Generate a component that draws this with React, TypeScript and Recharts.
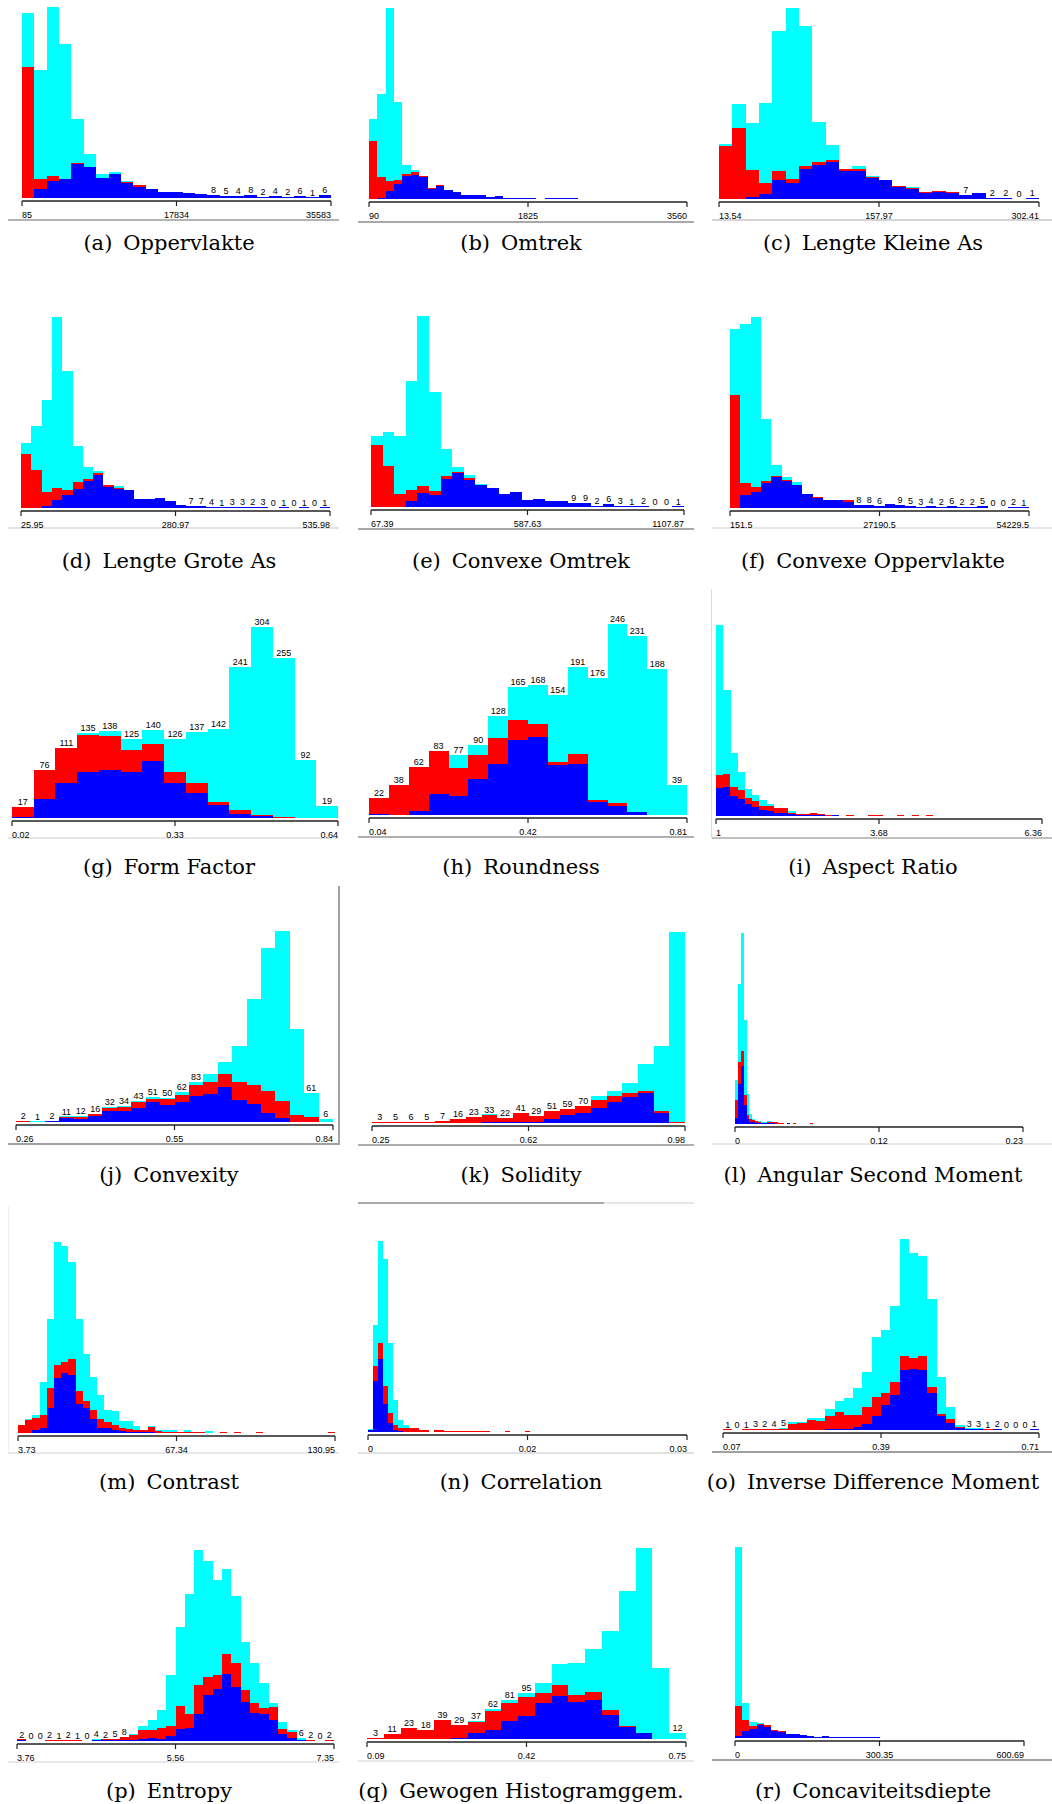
import React from 'react';
import { BarChart, Bar, XAxis, YAxis, LabelList } from 'recharts';

// ---------- data (bar heights; cyan = all objects, red / blue = subsets) ----------
// (a) Oppervlakte
const oppCyan = [556, 385, 573, 461, 237, 133, 72, 77, 48, 38, 27, 18, 18, 15, 12, 8, 6, 6, 9, 3, 6, 3, 7, 1, 9];
const oppRed = [393, 58, 65, 56, 105, 93, 59, 72, 47, 38, 27, 18, 18, 15, 12, 8, 6, 6, 9, 3, 6, 3, 7, 1, 9];
const oppBlue = [0, 26, 52, 56, 102, 93, 59, 72, 46, 34, 27, 18, 18, 15, 12, 8, 6, 6, 9, 3, 6, 3, 7, 1, 9];
const oppLabelStart = 15;
const oppLabels = ['8', '5', '4', '8', '2', '4', '2', '6', '1', '6'];
const oppTicks = ['85', '17834', '35583'];

// (b) Omtrek
const omtCyan = [238, 313, 571, 290, 103, 88, 70, 33, 43, 28, 20, 11, 11, 13, 5, 10, 4, 2, 2, 2, 0, 2, 2, 2, 2, 0, 0, 0, 0, 0, 0, 0, 0, 0, 0, 0, 0, 0];
const omtRed = [173, 65, 53, 58, 76, 80, 70, 33, 43, 28, 20, 11, 11, 13, 5, 10, 4, 2, 2, 2, 0, 2, 2, 2, 2, 0, 0, 0, 0, 0, 0, 0, 0, 0, 0, 0, 0, 0];
const omtBlue = [0, 2, 23, 45, 68, 72, 65, 30, 38, 28, 20, 11, 11, 13, 5, 10, 4, 2, 2, 2, 0, 2, 2, 2, 2, 0, 0, 0, 0, 0, 0, 0, 0, 0, 0, 0, 0, 0];
const omtLabelStart = 0;
const omtLabels: string[] = [];
const omtTicks = ['90', '1825', '3560'];

// (c) Lengte Kleine As
const lkaCyan = [164, 285, 227, 289, 504, 573, 520, 231, 162, 89, 100, 69, 56, 38, 33, 22, 25, 22, 12, 19, 3, 3, 0, 2];
const lkaRed = [160, 212, 87, 49, 84, 60, 100, 111, 118, 89, 90, 66, 56, 38, 32, 22, 25, 22, 12, 19, 3, 3, 0, 2];
const lkaBlue = [0, 0, 5, 16, 56, 49, 89, 103, 112, 84, 84, 63, 56, 35, 29, 19, 22, 18, 12, 19, 3, 3, 0, 2];
const lkaLabelStart = 18;
const lkaLabels = ['7', '', '2', '2', '0', '1'];
const lkaTicks = ['13.54', '157.97', '302.41'];

// (d) Lengte Grote As
const lgaCyan = [195, 245, 323, 571, 410, 185, 123, 111, 68, 67, 53, 27, 27, 30, 20, 10, 7, 7, 4, 1, 3, 3, 2, 3, 0, 1, 0, 1, 0, 1];
const lgaRed = [161, 115, 49, 61, 53, 78, 87, 106, 68, 61, 53, 27, 27, 30, 20, 10, 7, 7, 4, 1, 3, 3, 2, 3, 0, 1, 0, 1, 0, 1];
const lgaBlue = [0, 0, 5, 25, 39, 58, 81, 98, 63, 57, 53, 27, 27, 30, 20, 10, 7, 7, 4, 1, 3, 3, 2, 3, 0, 1, 0, 1, 0, 1];
const lgaLabelStart = 16;
const lgaLabels = ['7', '7', '4', '1', '3', '3', '2', '3', '0', '1', '0', '1', '0', '1'];
const lgaTicks = ['25.95', '280.97', '535.98'];

// (e) Convexe Omtrek
const cvoCyan = [215, 228, 215, 380, 577, 347, 175, 122, 97, 70, 58, 40, 46, 22, 24, 17, 17, 11, 12, 3, 8, 4, 1, 3, 0, 0, 1];
const cvoRed = [188, 124, 40, 50, 62, 47, 93, 106, 88, 65, 58, 40, 46, 22, 24, 17, 17, 11, 12, 3, 8, 4, 1, 3, 0, 0, 1];
const cvoBlue = [0, 0, 0, 18, 43, 35, 84, 102, 83, 65, 58, 40, 46, 22, 24, 17, 17, 11, 12, 3, 8, 4, 1, 3, 0, 0, 1];
const cvoLabelStart = 17;
const cvoLabels = ['9', '9', '2', '6', '3', '1', '2', '0', '0', '1'];
const cvoTicks = ['67.39', '587.63', '1107.87'];

// (f) Convexe Oppervlakte
const cvaCyan = [532, 546, 568, 264, 127, 91, 76, 41, 34, 25, 25, 23, 10, 10, 7, 12, 9, 6, 4, 6, 3, 7, 3, 3, 6, 0, 0, 3, 1];
const cvaRed = [335, 75, 62, 79, 94, 82, 68, 41, 34, 25, 25, 23, 10, 10, 7, 12, 9, 6, 4, 6, 3, 7, 3, 3, 6, 0, 0, 3, 1];
const cvaBlue = [0, 40, 49, 74, 92, 79, 68, 41, 31, 25, 25, 19, 10, 10, 7, 12, 9, 6, 4, 6, 3, 7, 3, 3, 6, 0, 0, 3, 1];
const cvaLabelStart = 12;
const cvaLabels = ['8', '8', '6', '', '9', '5', '3', '4', '2', '6', '2', '2', '5', '0', '0', '2', '1'];
const cvaTicks = ['151.5', '27190.5', '54229.5'];

// (g) Form Factor (counts)
const ffCyan = [17, 76, 111, 135, 138, 125, 140, 126, 137, 142, 241, 304, 255, 92, 19];
const ffRed = [17, 76, 111, 132, 130, 109, 118, 73, 55, 25, 13, 4, 1, 0, 0];
const ffBlue = [1, 30, 56, 73, 77, 74, 90, 55, 40, 20, 7, 3, 0, 0, 0];
const ffLabelStart = 0;
const ffLabels = ['17', '76', '111', '135', '138', '125', '140', '126', '137', '142', '241', '304', '255', '92', '19'];
const ffTicks = ['0.02', '0.33', '0.64'];

// (h) Roundness (counts)
const rndCyan = [22, 38, 62, 83, 77, 90, 128, 165, 168, 154, 191, 176, 246, 231, 188, 39];
const rndRed = [22, 38, 62, 83, 61, 77, 99, 123, 117, 68, 78, 19, 15, 4, 0, 0];
const rndBlue = [1, 0, 5, 27, 24, 46, 66, 97, 100, 65, 66, 17, 11, 4, 0, 0];
const rndLabelStart = 0;
const rndLabels = ['22', '38', '62', '83', '77', '90', '128', '165', '168', '154', '191', '176', '246', '231', '188', '39'];
const rndTicks = ['0.04', '0.42', '0.81'];

// (i) Aspect Ratio
const arCyan = [574, 380, 190, 133, 80, 62, 47, 37, 24, 24, 15, 5, 5, 8, 5, 3, 2, 0, 2, 0, 0, 2, 2, 0, 0, 2, 0, 2, 0, 2, 0, 0, 0, 0, 0, 0, 0, 0, 0, 0, 0, 0, 0, 0, 0];
const arRed = [124, 127, 86, 78, 55, 46, 31, 29, 24, 24, 10, 5, 5, 8, 5, 3, 2, 0, 2, 0, 0, 2, 2, 0, 0, 2, 0, 2, 0, 2, 0, 0, 0, 0, 0, 0, 0, 0, 0, 0, 0, 0, 0, 0, 0];
const arBlue = [84, 86, 59, 50, 37, 27, 18, 15, 10, 9, 7, 3, 2, 4, 2, 1, 2, 0, 0, 0, 0, 0, 0, 0, 0, 0, 0, 0, 0, 0, 0, 0, 0, 0, 0, 0, 0, 0, 0, 0, 0, 0, 0, 0, 0];
const arLabelStart = 0;
const arLabels: string[] = [];
const arTicks = ['1', '3.68', '6.36'];

// (j) Convexity (counts)
const cvxCyan = [2, 1, 2, 11, 12, 16, 32, 34, 43, 51, 50, 62, 83, 99, 124, 158, 255, 360, 396, 193, 61, 6];
const cvxRed = [2, 0, 2, 10, 10, 16, 30, 31, 41, 48, 48, 57, 76, 83, 99, 83, 76, 64, 44, 14, 10, 1];
const cvxBlue = [0, 0, 2, 8, 6, 12, 23, 23, 30, 41, 36, 42, 53, 59, 72, 45, 38, 19, 8, 0, 0, 0];
const cvxLabelStart = 0;
const cvxLabels = ['2', '1', '2', '11', '12', '16', '32', '34', '43', '51', '50', '62', '83', '', '', '', '', '', '', '', '61', '6'];
const cvxTicks = ['0.26', '0.55', '0.84'];

// (k) Solidity (counts)
const solCyan = [3, 5, 6, 5, 7, 16, 23, 33, 22, 41, 29, 51, 59, 70, 111, 132, 167, 244, 319, 793];
const solRed = [3, 5, 6, 5, 7, 16, 23, 32, 22, 41, 29, 51, 59, 70, 97, 111, 125, 132, 50, 3];
const solBlue = [0, 0, 0, 0, 0, 0, 0, 3, 3, 4, 4, 15, 32, 43, 64, 89, 107, 125, 42, 2];
const solLabelStart = 0;
const solLabels = ['3', '5', '6', '5', '7', '16', '23', '33', '22', '41', '29', '51', '59', '70'];
const solTicks = ['0.25', '0.62', '0.98'];

// (l) Angular Second Moment
const asmCyan = [
  131, 420, 572, 310, 90, 29, 14, 8, 6, 5,
  5, 10, 6, 5, 5, 4, 4, 0, 3, 0,
  3, 0, 0, 0, 0, 0, 3, 0, 0, 0,
  0, 0, 0, 0, 0, 0, 0, 0, 0, 0,
  0, 0, 0, 0, 0, 0, 0, 0, 0, 0,
  0, 0, 0, 0, 0, 0, 0, 0, 0, 0,
  0, 0, 0, 0, 0, 0, 0, 0, 0, 0,
  0, 0, 0, 0, 0, 0, 0, 0, 0, 0,
  0, 0, 0, 0, 0, 0, 0, 0, 0, 0,
  0, 0, 0, 0, 0, 0, 0, 0, 0, 0,
];
const asmRed = [
  71, 185, 220, 86, 27, 16, 12, 8, 5, 4,
  4, 6, 5, 5, 5, 4, 4, 0, 0, 0,
  3, 0, 0, 0, 0, 0, 3, 0, 0, 0,
  0, 0, 0, 0, 0, 0, 0, 0, 0, 0,
  0, 0, 0, 0, 0, 0, 0, 0, 0, 0,
  0, 0, 0, 0, 0, 0, 0, 0, 0, 0,
  0, 0, 0, 0, 0, 0, 0, 0, 0, 0,
  0, 0, 0, 0, 0, 0, 0, 0, 0, 0,
  0, 0, 0, 0, 0, 0, 0, 0, 0, 0,
  0, 0, 0, 0, 0, 0, 0, 0, 0, 0,
];
const asmBlue = [
  19, 119, 175, 58, 15, 7, 5, 3, 2, 2,
  2, 3, 2, 2, 1, 1, 1, 0, 3, 0,
  0, 0, 0, 0, 0, 0, 0, 0, 0, 0,
  0, 0, 0, 0, 0, 0, 0, 0, 0, 0,
  0, 0, 0, 0, 0, 0, 0, 0, 0, 0,
  0, 0, 0, 0, 0, 0, 0, 0, 0, 0,
  0, 0, 0, 0, 0, 0, 0, 0, 0, 0,
  0, 0, 0, 0, 0, 0, 0, 0, 0, 0,
  0, 0, 0, 0, 0, 0, 0, 0, 0, 0,
  0, 0, 0, 0, 0, 0, 0, 0, 0, 0,
];
const asmLabelStart = 0;
const asmLabels: string[] = [];
const asmTicks = ['0', '0.12', '0.23'];

// (m) Contrast
const conCyan = [23, 42, 53, 151, 341, 571, 558, 510, 341, 236, 166, 113, 70, 66, 36, 36, 20, 10, 20, 8, 8, 8, 3, 8, 3, 3, 5, 0, 3, 0, 3, 0, 0, 3, 0, 0, 0, 0, 0, 0, 0, 0, 0, 3];
const conRed = [23, 40, 44, 53, 135, 203, 213, 221, 126, 95, 70, 41, 32, 25, 15, 11, 10, 10, 18, 6, 3, 3, 3, 3, 3, 3, 0, 0, 3, 0, 3, 0, 0, 3, 0, 0, 0, 0, 0, 0, 0, 0, 0, 3];
const conBlue = [0, 0, 8, 14, 76, 163, 178, 173, 86, 76, 41, 15, 15, 10, 7, 4, 3, 2, 2, 1, 0, 0, 0, 0, 0, 0, 0, 0, 0, 0, 0, 0, 0, 0, 0, 0, 0, 0, 0, 0, 0, 0, 0, 0];
const conLabelStart = 0;
const conLabels: string[] = [];
const conTicks = ['3.73', '67.34', '130.95'];

// (n) Correlation
const corCyan = [
  10, 323, 575, 520, 268, 95, 37, 20, 12, 12,
  5, 5, 0, 5, 5, 2, 2, 2, 2, 2,
  2, 2, 2, 2, 0, 0, 0, 2, 0, 0,
  0, 2, 0, 0, 0, 0, 0, 0, 0, 0,
  0, 0, 0, 0, 0, 0, 0, 0, 0, 0,
  0, 0, 0, 0, 0, 0, 0, 0, 0, 0,
  0, 0, 0,
];
const corRed = [
  7, 200, 268, 137, 58, 20, 13, 13, 12, 12,
  5, 5, 0, 5, 5, 2, 2, 2, 2, 2,
  2, 2, 2, 2, 0, 0, 0, 2, 0, 0,
  0, 2, 0, 0, 0, 0, 0, 0, 0, 0,
  0, 0, 0, 0, 0, 0, 0, 0, 0, 0,
  0, 0, 0, 0, 0, 0, 0, 0, 0, 0,
  0, 0, 0,
];
const corBlue = [
  5, 155, 220, 83, 27, 7, 2, 1, 0, 0,
  0, 0, 0, 0, 0, 0, 0, 0, 0, 0,
  0, 0, 0, 0, 0, 0, 0, 0, 0, 0,
  0, 0, 0, 0, 0, 0, 0, 0, 0, 0,
  0, 0, 0, 0, 0, 0, 0, 0, 0, 0,
  0, 0, 0, 0, 0, 0, 0, 0, 0, 0,
  0, 0, 0,
];
const corLabelStart = 0;
const corLabels: string[] = [];
const corTicks = ['0', '0.02', '0.03'];

// (o) Inverse Difference Moment
const idmCyan = [1, 0, 1, 4, 2, 4, 6, 23, 21, 35, 37, 63, 88, 95, 127, 173, 280, 301, 373, 573, 530, 523, 392, 160, 70, 15, 3, 3, 1, 2, 0, 0, 0, 2];
const idmRed = [1, 0, 1, 4, 2, 4, 4, 18, 20, 30, 28, 42, 55, 45, 45, 70, 100, 110, 145, 223, 216, 223, 130, 48, 33, 10, 2, 2, 1, 0, 0, 0, 0, 0];
const idmBlue = [0, 0, 0, 0, 0, 0, 0, 0, 0, 0, 0, 2, 2, 2, 10, 18, 42, 76, 104, 180, 183, 180, 110, 43, 20, 5, 2, 2, 0, 2, 0, 0, 0, 2];
const idmLabelStart = 0;
const idmLabels = ['1', '0', '1', '3', '2', '4', '5', '', '', '', '', '', '', '', '', '', '', '', '', '', '', '', '', '', '', '', '3', '3', '1', '2', '0', '0', '0', '1'];
const idmTicks = ['0.07', '0.39', '0.71'];

// (p) Entropy
const entCyan = [3, 0, 0, 2, 1, 2, 1, 0, 7, 3, 7, 12, 19, 45, 62, 92, 199, 342, 442, 574, 540, 484, 517, 437, 298, 234, 175, 115, 58, 34, 8, 2, 0, 2];
const entRed = [3, 0, 0, 2, 1, 2, 1, 0, 4, 3, 7, 12, 17, 34, 34, 40, 45, 105, 80, 167, 192, 199, 262, 234, 152, 114, 99, 102, 37, 27, 4, 2, 0, 2];
const entBlue = [2, 0, 0, 0, 0, 0, 0, 0, 2, 2, 2, 2, 3, 5, 9, 5, 14, 37, 40, 80, 137, 155, 202, 162, 117, 84, 80, 64, 20, 10, 4, 0, 0, 0];
const entLabelStart = 0;
const entLabels = ['2', '0', '0', '2', '1', '2', '1', '0', '4', '2', '5', '8', '', '', '', '', '', '', '', '', '', '', '', '', '', '', '', '', '', '', '6', '2', '0', '2'];
const entTicks = ['3.76', '5.56', '7.35'];

// (q) Gewogen Histogramggem. (counts)
const ghgCyan = [3, 11, 23, 18, 39, 29, 37, 62, 81, 95, 117, 156, 158, 188, 226, 308, 398, 147, 12];
const ghgRed = [3, 11, 23, 18, 39, 29, 36, 58, 76, 87, 96, 112, 92, 97, 61, 28, 12, 1, 0];
const ghgBlue = [0, 0, 0, 0, 1, 3, 12, 18, 38, 47, 75, 89, 77, 82, 51, 25, 12, 1, 0];
const ghgLabelStart = 0;
const ghgLabels = ['3', '11', '23', '18', '39', '29', '37', '62', '81', '95', '', '', '', '', '', '', '', '', '12'];
const ghgTicks = ['0.09', '0.42', '0.75'];

// (r) Concaviteitsdiepte
const ccdCyan = [575, 106, 47, 44, 40, 23, 21, 11, 11, 8, 5, 3, 5, 3, 2, 2, 2, 2, 2, 2, 0, 0, 0, 0, 0, 0, 0, 0, 0, 0, 0, 0, 0, 0, 0, 0, 0, 0, 0, 0];
const ccdRed = [96, 53, 36, 43, 40, 23, 21, 11, 11, 8, 5, 3, 5, 3, 2, 2, 2, 2, 2, 2, 0, 0, 0, 0, 0, 0, 0, 0, 0, 0, 0, 0, 0, 0, 0, 0, 0, 0, 0, 0];
const ccdBlue = [5, 21, 28, 38, 33, 20, 18, 11, 11, 8, 5, 3, 5, 3, 2, 2, 2, 2, 2, 2, 0, 0, 0, 0, 0, 0, 0, 0, 0, 0, 0, 0, 0, 0, 0, 0, 0, 0, 0, 0];
const ccdLabelStart = 0;
const ccdLabels: string[] = [];
const ccdTicks = ['0', '300.35', '600.69'];

// ---------- layout ----------
type Spec = {
  letter: string; caption: string;
  cyan: number[]; red: number[]; blue: number[];
  labelStart: number; labels: string[]; ticks: string[];
  x0: number; x1: number; base: number; col: number; row: number;
};

const SPECS: Spec[] = [
  { letter: 'a', caption: 'Oppervlakte', cyan: oppCyan, red: oppRed, blue: oppBlue, labelStart: oppLabelStart, labels: oppLabels, ticks: oppTicks, x0: 22, x1: 331, base: 198, col: 0, row: 0 },
  { letter: 'b', caption: 'Omtrek', cyan: omtCyan, red: omtRed, blue: omtBlue, labelStart: omtLabelStart, labels: omtLabels, ticks: omtTicks, x0: 369, x1: 687, base: 199, col: 1, row: 0 },
  { letter: 'c', caption: 'Lengte Kleine As', cyan: lkaCyan, red: lkaRed, blue: lkaBlue, labelStart: lkaLabelStart, labels: lkaLabels, ticks: lkaTicks, x0: 719, x1: 1039, base: 199, col: 2, row: 0 },
  { letter: 'd', caption: 'Lengte Grote As', cyan: lgaCyan, red: lgaRed, blue: lgaBlue, labelStart: lgaLabelStart, labels: lgaLabels, ticks: lgaTicks, x0: 21, x1: 330, base: 508, col: 0, row: 1 },
  { letter: 'e', caption: 'Convexe Omtrek', cyan: cvoCyan, red: cvoRed, blue: cvoBlue, labelStart: cvoLabelStart, labels: cvoLabels, ticks: cvoTicks, x0: 371, x1: 684, base: 507, col: 1, row: 1 },
  { letter: 'f', caption: 'Convexe Oppervlakte', cyan: cvaCyan, red: cvaRed, blue: cvaBlue, labelStart: cvaLabelStart, labels: cvaLabels, ticks: cvaTicks, x0: 730, x1: 1029, base: 508, col: 2, row: 1 },
  { letter: 'g', caption: 'Form Factor', cyan: ffCyan, red: ffRed, blue: ffBlue, labelStart: ffLabelStart, labels: ffLabels, ticks: ffTicks, x0: 12, x1: 338, base: 818, col: 0, row: 2 },
  { letter: 'h', caption: 'Roundness', cyan: rndCyan, red: rndRed, blue: rndBlue, labelStart: rndLabelStart, labels: rndLabels, ticks: rndTicks, x0: 369, x1: 687, base: 815, col: 1, row: 2 },
  { letter: 'i', caption: 'Aspect Ratio', cyan: arCyan, red: arRed, blue: arBlue, labelStart: arLabelStart, labels: arLabels, ticks: arTicks, x0: 716, x1: 1042, base: 816, col: 2, row: 2 },
  { letter: 'j', caption: 'Convexity', cyan: cvxCyan, red: cvxRed, blue: cvxBlue, labelStart: cvxLabelStart, labels: cvxLabels, ticks: cvxTicks, x0: 16, x1: 333, base: 1122, col: 0, row: 3 },
  { letter: 'k', caption: 'Solidity', cyan: solCyan, red: solRed, blue: solBlue, labelStart: solLabelStart, labels: solLabels, ticks: solTicks, x0: 372, x1: 685, base: 1123, col: 1, row: 3 },
  { letter: 'l', caption: 'Angular Second Moment', cyan: asmCyan, red: asmRed, blue: asmBlue, labelStart: asmLabelStart, labels: asmLabels, ticks: asmTicks, x0: 735, x1: 1023, base: 1124, col: 2, row: 3 },
  { letter: 'm', caption: 'Contrast', cyan: conCyan, red: conRed, blue: conBlue, labelStart: conLabelStart, labels: conLabels, ticks: conTicks, x0: 18, x1: 335, base: 1433, col: 0, row: 4 },
  { letter: 'n', caption: 'Correlation', cyan: corCyan, red: corRed, blue: corBlue, labelStart: corLabelStart, labels: corLabels, ticks: corTicks, x0: 368, x1: 687, base: 1432, col: 1, row: 4 },
  { letter: 'o', caption: 'Inverse Difference Moment', cyan: idmCyan, red: idmRed, blue: idmBlue, labelStart: idmLabelStart, labels: idmLabels, ticks: idmTicks, x0: 723, x1: 1039, base: 1430, col: 2, row: 4 },
  { letter: 'p', caption: 'Entropy', cyan: entCyan, red: entRed, blue: entBlue, labelStart: entLabelStart, labels: entLabels, ticks: entTicks, x0: 17, x1: 334, base: 1741, col: 0, row: 5 },
  { letter: 'q', caption: 'Gewogen Histogramggem.', cyan: ghgCyan, red: ghgRed, blue: ghgBlue, labelStart: ghgLabelStart, labels: ghgLabels, ticks: ghgTicks, x0: 367, x1: 686, base: 1739, col: 1, row: 5 },
  { letter: 'r', caption: 'Concaviteitsdiepte', cyan: ccdCyan, red: ccdRed, blue: ccdBlue, labelStart: ccdLabelStart, labels: ccdLabels, ticks: ccdTicks, x0: 735, x1: 1024, base: 1738, col: 2, row: 5 },
];

const COL_CENTERS = [169, 521, 873];
const CAPTION_Y = [243, 561, 867, 1175, 1482, 1791];

// frame lines of the pasted screenshots [x, y, width, height, colour]
const FRAME_LINES: [number, number, number, number, string][] = [
  [8, 219, 331, 2, '#b4b4b4'], [358, 221, 336, 2, '#a8a8a8'], [712, 219, 340, 2, '#d4d4d4'],
  [8, 527, 331, 2, '#e2e2e2'], [358, 528, 336, 2, '#a8a8a8'], [712, 527, 340, 2, '#e6e6e6'],
  [8, 837, 331, 2, '#e6e6e6'], [358, 836, 336, 2, '#b0b0b0'], [712, 837, 340, 2, '#c0c0c0'],
  [711, 589, 1, 249, '#dcdcdc'],
  [8, 1143, 331, 2, '#a0a0a0'], [338, 886, 2, 259, '#a0a0a0'], [358, 1144, 336, 2, '#b0b0b0'], [712, 1143, 340, 2, '#e8e8e8'],
  [8, 1452, 331, 2, '#e8e8e8'], [8, 1206, 1, 247, '#eeeeee'], [358, 1452, 336, 2, '#e2e2e2'],
  [358, 1202, 246, 2, '#aaaaaa'], [604, 1202, 90, 2, '#e6e6e6'], [712, 1451, 340, 2, '#a0a0a0'],
  [8, 1761, 331, 2, '#e8e8e8'], [358, 1760, 336, 2, '#e8e8e8'], [712, 1759, 340, 2, '#a0a0a0'],
];

const TOP_H = 191; // height of the tallest bar
const GAP = 3; // bars stop a little above the axis line
const ML = 8, MR = 8, MT = 14, AXH = 22;
const SANS = "'Liberation Sans', Arial, sans-serif";

const CrispRect = (p: any) => {
  const { x, y, width, height, fill } = p;
  if (!(height > 0) || !(width > 0)) return <g />;
  const hh = Math.max(1, height);
  return <rect x={x} y={y + height - hh} width={width + 0.03} height={hh} fill={fill} shapeRendering="crispEdges" />;
};

// The axis shows three labels at the bin edges: start, middle and end of the range.
// Each category tick sits at its bin centre; the edge is half a band away.
const EdgeTick = (props: any) => {
  const { x, y, index, labels, n, bw } = props;
  const midIdx = n % 2 === 0 ? n / 2 : (n - 1) / 2;
  let tx: number | null = null;
  let anchor: 'start' | 'middle' | 'end' = 'middle';
  let text = '';
  if (index === 0) {
    tx = x - bw / 2; anchor = 'start'; text = labels[0];
  } else if (index === n - 1) {
    tx = x + bw / 2; anchor = 'end'; text = labels[2];
  } else if (index === midIdx) {
    tx = n % 2 === 0 ? x - bw / 2 : x; anchor = 'middle'; text = labels[1];
  }
  if (tx === null) return <g />;
  return (
    <g>
      <line x1={tx} x2={tx} y1={y} y2={y + 5} stroke="#222" strokeWidth={1.2} />
      <text x={tx} y={y + 17} textAnchor={anchor} fontSize={9} fontFamily={SANS} fill="#000">
        {text}
      </text>
    </g>
  );
};

function Histogram({ s }: { s: Spec }) {
  const rows = s.cyan.map((c, i) => {
    const r = s.red[i];
    const b = s.blue[i];
    const lb = s.labels[i - s.labelStart];
    return {
      i,
      blue: b,
      red: Math.max(0, r - b),
      cyan: Math.max(0, c - Math.max(r, b)),
      lbl: lb ? lb : undefined,
    };
  });
  const n = rows.length;
  const max = Math.max(...rows.map((d) => d.blue + d.red + d.cyan));
  const lo = (-GAP * max) / TOP_H;
  const plotW = s.x1 - s.x0;
  const bw = plotW / n;
  const w = plotW + ML + MR;
  const h = MT + TOP_H + GAP + AXH;
  return (
    <div style={{ position: 'absolute', left: s.x0 - ML, top: s.base - TOP_H - MT }}>
      <BarChart
        width={w}
        height={h}
        data={rows}
        margin={{ top: MT, right: MR, bottom: 0, left: ML }}
        barSize={bw - 0.01}
        barGap={0}
        barCategoryGap={0}
      >
        <XAxis
          dataKey="i"
          type="category"
          interval={0}
          height={AXH}
          axisLine={{ stroke: '#222', strokeWidth: 1.5 }}
          tickLine={false}
          tickSize={0}
          tickMargin={0}
          tick={<EdgeTick labels={s.ticks} n={n} bw={bw} />}
        />
        <YAxis domain={[lo, max]} hide width={0} />
        <Bar dataKey="blue" stackId="s" fill="#0000ff" isAnimationActive={false} shape={CrispRect} />
        <Bar dataKey="red" stackId="s" fill="#ff0000" isAnimationActive={false} shape={CrispRect} />
        <Bar dataKey="cyan" stackId="s" fill="#00ffff" isAnimationActive={false} shape={CrispRect}>
          <LabelList dataKey="lbl" position="top" offset={2} fontSize={9} fill="#000" fontFamily={SANS} />
        </Bar>
      </BarChart>
    </div>
  );
}

export default function App() {
  return (
    <div style={{ position: 'absolute', left: 0, top: 0, width: 1052, height: 1804, background: '#fff', overflow: 'hidden' }}>
      {FRAME_LINES.map(([x, y, lw, lh, c], k) => (
        <div key={'f' + k} style={{ position: 'absolute', left: x, top: y, width: lw, height: lh, background: c }} />
      ))}
      {SPECS.map((s) => (
        <Histogram key={s.letter} s={s} />
      ))}
      {SPECS.map((s) => (
        <div
          key={'c' + s.letter}
          style={{
            position: 'absolute',
            left: COL_CENTERS[s.col] - 220,
            width: 440,
            top: CAPTION_Y[s.row] - 13,
            textAlign: 'center',
            fontFamily: "'DejaVu Serif', 'Liberation Serif', serif",
            fontSize: 21,
            lineHeight: '26px',
            color: '#000',
            whiteSpace: 'nowrap',
          }}
        >
          <span>({s.letter})</span>
          <span style={{ marginLeft: 11 }}>{s.caption}</span>
        </div>
      ))}
    </div>
  );
}
